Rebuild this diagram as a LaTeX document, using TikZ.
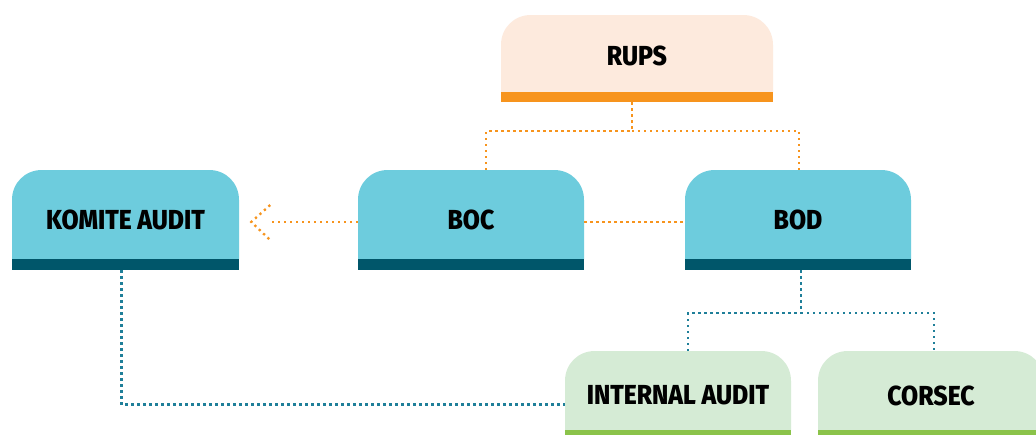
\documentclass[tikz,border=0pt]{standalone}
\usepackage{fontspec}
\setmainfont{Fira Sans}[BoldFont={Fira Sans ExtraBold}]
\usetikzlibrary{calc}
\definecolor{peach}{HTML}{FDEADD}
\definecolor{orng}{HTML}{F7941D}
\definecolor{cyanb}{HTML}{6DCCDD}
\definecolor{tealb}{HTML}{00566A}
\definecolor{mint}{HTML}{D5EBD5}
\definecolor{leaf}{HTML}{8BC34A}
\definecolor{dotblue}{HTML}{1F7F99}
% x1, top, x2, band top, bottom, fill colour, band colour
\newcommand\orgbox[7]{%
  \fill[#6] (#1,#4) -- (#1,{#2+30}) .. controls (#1,{#2+13}) and ({#1+13},#2) .. ({#1+30},#2)
     -- ({#3-30},#2) .. controls ({#3-13},#2) and (#3,{#2+13}) .. (#3,{#2+30}) -- (#3,#4) -- cycle;
  \fill[#7] (#1,{#4-0.3}) rectangle (#3,#5);}
\newcommand\lbltext[1]{\scalebox{0.9}[1]{#1}}
\begin{document}
\begin{tikzpicture}[x=1pt,y=-1pt,
  lbl/.style={font=\fontsize{27.5}{28}\selectfont\bfseries, inner sep=0pt, text=black},
  odot/.style={draw=orng, line width=2.3pt, dash pattern=on 2.3pt off 3.7pt},
  bdot/.style={draw=dotblue, line width=2.3pt, dash pattern=on 2.3pt off 3.7pt}]
\fill[white] (0,0) rectangle (1036,434);
\useasboundingbox (0,0) rectangle (1036,434);
% boxes
\orgbox{501}{15}{773}{92}{102}{peach}{orng}
\orgbox{12}{170}{239}{259}{270}{cyanb}{tealb}
\orgbox{358}{170}{584}{259}{270}{cyanb}{tealb}
\orgbox{685}{170}{911}{259}{270}{cyanb}{tealb}
\orgbox{565}{351}{791}{430}{440}{mint}{leaf}
\orgbox{818}{351}{1044}{430}{440}{mint}{leaf}
% labels / nodes
\node[lbl, minimum width=272pt, minimum height=87pt] (rups) at (637,58.5) {\raisebox{6pt}{\lbltext{RUPS}}};
\node[lbl, minimum width=227pt, minimum height=100pt] (ka) at (125.5,220) {\lbltext{KOMITE AUDIT}};
\node[lbl, minimum width=226pt, minimum height=100pt] (boc) at (471,220) {\lbltext{BOC}};
\node[lbl, minimum width=226pt, minimum height=100pt] (bod) at (798,220) {\lbltext{BOD}};
\node[lbl, minimum width=226pt, minimum height=89pt] (ia) at (678,395.5) {\raisebox{-2pt}{\lbltext{INTERNAL AUDIT}}};
\node[lbl, minimum width=226pt, minimum height=89pt] (cs) at (931,395.5) {\raisebox{-2pt}{\lbltext{CORSEC}}};
% orange connectors
\coordinate (rj) at (632,131);
\draw[odot] (rups.south -| rj) -- (rj);
\draw[odot] ([xshift=15pt]boc.north) |- (rj);
\draw[odot] (rj) -| ([xshift=1pt]bod.north);
\draw[odot] ([yshift=-2pt]boc.east) -- ([yshift=-2pt]bod.west);
\coordinate (tip) at ($(ka.east)+(12,2)$);
\draw[odot] ([yshift=-2pt]boc.west) -- ($(tip)+(18,0)$);
\draw[odot] ($(tip)+(19,-17)$) -- (tip) -- ($(tip)+(19,18)$);
% blue connectors
\coordinate (bj) at (801,313);
\draw[bdot] ([xshift=3pt]bod.south) -- (bj);
\draw[bdot] ([xshift=10pt]ia.north) |- (bj);
\draw[bdot] (bj) -| ([xshift=3pt]cs.north);
\draw[bdot] ([xshift=-4pt]ka.south) |- ([yshift=-9pt]ia.west);
\end{tikzpicture}
\end{document}
